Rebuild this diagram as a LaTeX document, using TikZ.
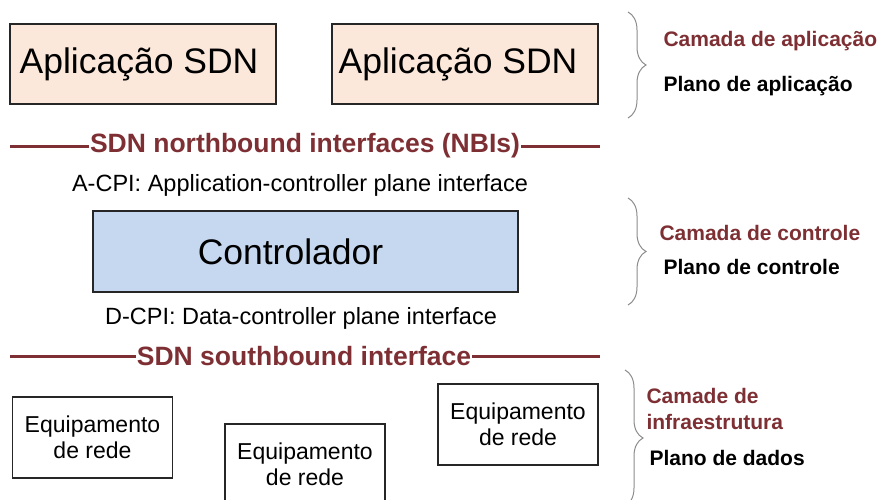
\documentclass[tikz,border=0pt]{standalone}
\usepackage{fontspec}
\setmainfont{Liberation Sans}
\usepackage{tikz}
\usetikzlibrary{decorations.pathreplacing}
\definecolor{layer-red}{HTML}{7E2F33}
\definecolor{app-fill}{HTML}{FCE8DB}
\definecolor{ctrl-fill}{HTML}{C6D8EF}
\definecolor{brace-gray}{HTML}{8C8C8C}
\tikzset{
    app-box/.style = {draw=black!85, fill=app-fill, line width=1.2pt, minimum width=266pt, minimum height=80pt, inner sep=0pt, font=\fontsize{35.5}{40}\selectfont},
    ctrl-box/.style = {draw=black!85, fill=ctrl-fill, line width=1.2pt, minimum width=425pt, minimum height=81pt, inner sep=0pt, font=\fontsize{35.5}{40}\selectfont},
    dev-box/.style = {draw=black!85, fill=white, line width=1.2pt, minimum width=160pt, minimum height=81pt, align=center, font=\fontsize{23}{26}\selectfont},
    iface-title/.style = {text=layer-red, font=\fontsize{26.5}{30}\selectfont\bfseries, inner sep=1pt},
    iface-line/.style = {layer-red, line width=3pt},
    iface-note/.style = {font=\fontsize{23.5}{27}\selectfont},
    layer-brace/.style = {draw=brace-gray, line width=1pt, decorate, decoration={brace, amplitude=18pt}},
    layer-name/.style = {anchor=west, text=layer-red, font=\fontsize{21}{26}\selectfont\bfseries, align=left},
    plane-name/.style = {anchor=west, font=\fontsize{21}{26}\selectfont\bfseries},
}

\begin{document}
\begin{tikzpicture}[x=1pt, y=-1pt]
\useasboundingbox (0,0) rectangle (883,500);

% application layer
\node [app-box] (app1) at (143,64) {Aplicação SDN\kern8pt};
\node [app-box] (app2) at (465,64) {Aplicação SDN\kern14pt};
\draw [layer-brace] (628,12) -- (628,118);
\node [layer-name] (camApp) at (660,41) {Camada de aplicação};
\node [plane-name] (planoApp) at (660,86) {Plano de aplicação};

% northbound
\coordinate (nbiL) at (10,146);
\coordinate (nbiR) at (600,146);
\node [iface-title] (nbi) at (305,146) {SDN northbound interfaces (NBIs)};
\draw [iface-line] (nbiL) -- (nbi.west);
\draw [iface-line] (nbi.east) -- (nbiR);
\node [iface-note] (acpi) at (300,185) {A-CPI: Application-controller plane interface};

% control layer
\node [ctrl-box] (ctrl) at (305.5,251.5) {Controlador\kern30pt};
\draw [layer-brace] (628,198) -- (628,305);
\node [layer-name] (camCtrl) at (656,233) {Camada de controle};
\node [plane-name] (planoCtrl) at (660,267) {Plano de controle};
\node [iface-note] (dcpi) at (301,318) {D-CPI: Data-controller plane interface};

% southbound
\coordinate (sbiL) at (10,356);
\coordinate (sbiR) at (600,356);
\node [iface-title] (sbi) at (304,356) {SDN southbound interface};
\draw [iface-line] (sbiL) -- (sbi.west);
\draw [iface-line] (sbi.east) -- (sbiR);

% infrastructure layer
\node [dev-box] (eq1) at (92.5,437.5) {Equipamento\\de rede};
\node [dev-box] (eq2) at (305,464.5) {Equipamento\\de rede};
\node [dev-box] (eq3) at (518,424.5) {Equipamento\\de rede};
\draw [layer-brace] (625,370) -- (625,506);
\node [layer-name] (camInfra) at (643,409) {Camade de\\infraestrutura};
\node [plane-name] (planoInfra) at (646,458) {Plano de dados};
\end{tikzpicture}
\end{document}
